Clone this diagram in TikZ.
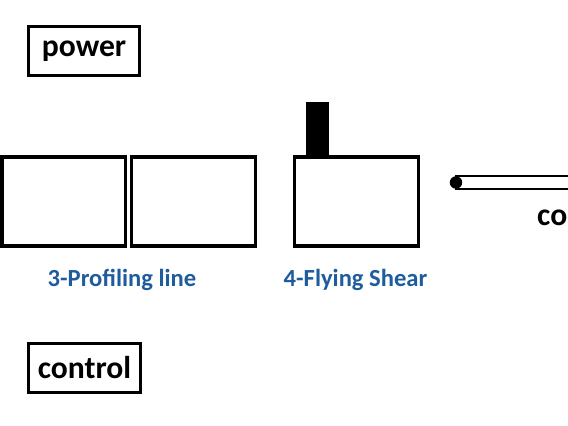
\documentclass[tikz,border=0pt]{standalone}
\usepackage{fontspec}
\setmainfont{Carlito}
\usepackage{tikz}
\usetikzlibrary{positioning}
\definecolor{labelblue}{HTML}{1F5C9E}
\tikzset{
  every picture/.style={line join=miter, line cap=rect},
  tagbox/.style={draw, line width=1.6pt, inner sep=0pt, minimum width=2.23cm, minimum height=0.99cm, font=\fontsize{18}{20}\selectfont\bfseries},
  unitbox/.style={draw, line width=1.8pt, inner sep=0pt, minimum height=1.78cm},
  blade/.style={fill=black, inner sep=0pt, minimum width=0.46cm, minimum height=1.06cm},
  caption/.style={text=labelblue, font=\fontsize{14}{16}\selectfont\bfseries},
}

\begin{document}
\begin{tikzpicture}
\useasboundingbox (0,0) rectangle (11.36,8.52);
\clip (0,0) rectangle (11.36,8.52);
% signal boxes
\node[tagbox] (power) at (1.68,7.50) {power};
\node[tagbox] (control) at (1.69,1.16) {control};
% profiling line: two stands side by side
\node[unitbox,minimum width=2.47cm] (stand1) at (1.275,4.49) {};
\node[unitbox,minimum width=2.48cm] (stand2) at (3.875,4.49) {};
\node[caption] (proflabel) at (2.44,2.92) {3-Profiling line};
% flying shear with its blade
\node[unitbox,minimum width=2.48cm] (shear) at (7.13,4.49) {};
\node[blade,anchor=south] (blade) at ([xshift=-0.79cm]shear.north) {};
\node[caption] (shearlabel) at (7.11,2.92) {4-Flying Shear};
% pivot and arm going off to the right
\coordinate (armend) at (12.5,4.74);
\draw[line width=1.1pt] (9.12,5.00) rectangle (armend);
\node[circle,fill=black,inner sep=0pt,minimum size=0.25cm] (pivot) at (9.12,4.87) {};
\node[anchor=west,font=\fontsize{18}{20}\selectfont\bfseries] (armlabel) at (10.62,4.22) {control};
\end{tikzpicture}
\end{document}
